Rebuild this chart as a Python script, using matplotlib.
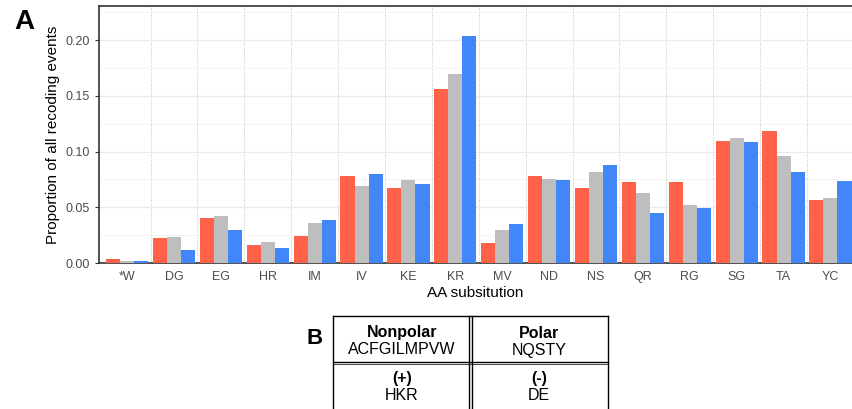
import matplotlib.pyplot as plt
import numpy as np

plt.rcParams['font.family'] = ['Liberation Sans', 'DejaVu Sans']

# substitutions on the x axis
subs = ['*W', 'DG', 'EG', 'HR', 'IM', 'IV', 'KE', 'KR', 'MV', 'ND', 'NS', 'QR', 'RG', 'SG', 'TA', 'YC']

# three series (red, grey, blue)
red_vals = [0.0033, 0.0222, 0.0401, 0.0159, 0.0240, 0.0778, 0.0671, 0.1560,
            0.0177, 0.0778, 0.0671, 0.0725, 0.0725, 0.1093, 0.1183, 0.0563]
grey_vals = [0.0015, 0.0230, 0.0419, 0.0186, 0.0356, 0.0689, 0.0743, 0.1695,
             0.0293, 0.0751, 0.0814, 0.0626, 0.0518, 0.1120, 0.0958, 0.0581]
blue_vals = [0.0015, 0.0114, 0.0293, 0.0132, 0.0383, 0.0796, 0.0707, 0.2036,
             0.0347, 0.0743, 0.0877, 0.0446, 0.0491, 0.1084, 0.0814, 0.0734]

# panel B table
table_cells = [['Nonpolar', 'ACFGILMPVW'], ['Polar', 'NQSTY'],
               ['(+)', 'HKR'], ['(-)', 'DE']]

W, H = 852, 409
fig = plt.figure(figsize=(W / 100, H / 100), dpi=100)

ax = fig.add_axes([99 / W, 146 / H, (W - 99) / W, 257 / H])
x = np.arange(len(subs))
bw = 0.3
ax.bar(x - bw, red_vals, bw, color='#FF6249', zorder=3)
ax.bar(x, grey_vals, bw, color='#BEBEBE', zorder=3)
ax.bar(x + bw, blue_vals, bw, color='#4286FA', zorder=3)

ax.set_xlim(-0.6, 15.46)
ax.set_ylim(0, 0.2305)
ax.set_yticks([0, 0.05, 0.10, 0.15, 0.20])
ax.set_yticklabels(['0.00', '0.05', '0.10', '0.15', '0.20'])
ax.set_yticks(np.arange(0.025, 0.23, 0.05), minor=True)
ax.set_xticks(x)
ax.set_xticklabels(subs)
ax.tick_params(axis='both', labelsize=9, labelcolor='#4D4D4D', color='#333333',
               length=3, width=0.8)
ax.tick_params(axis='x', length=0, pad=6)
ax.tick_params(axis='y', which='minor', length=0)

ax.grid(axis='y', which='major', color='#EBEBEB', linewidth=1.0, zorder=0)
ax.grid(axis='y', which='minor', color='#F2F2F2', linewidth=0.6, zorder=0)
for b in np.arange(0.5, 15.5, 1.0):
    ax.axvline(b, color='#B0B0B0', linestyle=(0, (1, 2)), linewidth=0.6, zorder=1)

for s in ['left', 'top', 'bottom']:
    ax.spines[s].set_color('#333333')
    ax.spines[s].set_linewidth(1.2)
ax.spines['right'].set_visible(False)

ax.set_xlabel('AA subsitution', fontsize=11, labelpad=2)
ax.set_ylabel('Proportion of all recoding events', fontsize=11, labelpad=4)

fig.text(24 / W, 1 - 22 / H, 'A', fontsize=20, fontweight='bold', ha='center', va='center')
fig.text(315 / W, 1 - 339 / H, 'B', fontsize=16, fontweight='bold', ha='center', va='center')

# table of panel B drawn in figure pixel coordinates
tab = fig.add_axes([0, 0, 1, 1], facecolor='none')
tab.set_xlim(0, W)
tab.set_ylim(H, 0)
tab.axis('off')
lw = 1.0
tab.plot([333, 608], [316, 316], color='black', lw=lw)
tab.plot([333, 608], [362, 362], color='black', lw=lw)
tab.plot([333, 608], [364, 364], color='black', lw=0.5)
tab.plot([333, 333], [316, 409], color='black', lw=lw)
tab.plot([608, 608], [316, 409], color='black', lw=lw)
tab.plot([469, 469], [316, 409], color='black', lw=lw)
tab.plot([471.5, 471.5], [316, 409], color='black', lw=lw)

cx = [402, 539, 402, 539]
cy = [333, 333, 378, 378]
for (head, body), xx, yy in zip(table_cells, cx, cy):
    tab.text(xx, yy, head, fontsize=11.5, fontweight='bold', ha='center', va='center')
    tab.text(xx, yy + 17, body, fontsize=11.5, ha='center', va='center')

fig.savefig('out.png', dpi=100)
